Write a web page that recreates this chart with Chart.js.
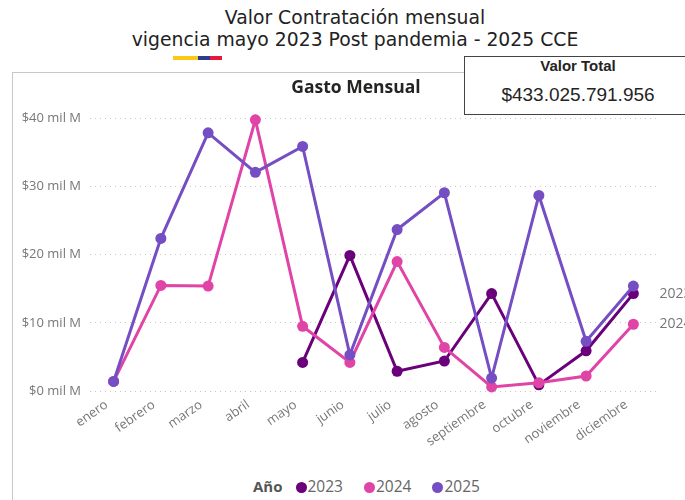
<!DOCTYPE html>
<html lang="es">
<head>
    <meta charset="UTF-8">
    <title>Valor Contratación mensual</title>
    <script src="https://cdn.jsdelivr.net/npm/chart.js"></script>
    <style>
        html, body { margin: 0; padding: 0; background: #fff; overflow: hidden; width: 685px; height: 500px; }
        #titulo { position: absolute; left: 0; top: 7px; width: 710px; text-align: center;
                  font-family: "DejaVu Sans", sans-serif; font-size: 18.8px; line-height: 22px; color: #222; }
        .barra { position: absolute; top: 56px; height: 4px; }
        #panel { position: absolute; left: 12px; top: 72px; width: 700px; height: 440px;
                 border-left: 1px solid #c8c8c8; border-top: 1px solid #c8c8c8; }
        #grafico { position: absolute; left: 12px; top: 72px; }
        #caja { position: absolute; left: 464px; top: 56px; width: 240px; height: 57px;
                border: 1.5px solid #444; background: #fff; font-family: "Liberation Sans", Arial, sans-serif; }
        #caja .t1 { position: absolute; left: 0; width: 226px; top: 0px; text-align: center; font-weight: bold; font-size: 15px; color: #252423; }
        #caja .t2 { position: absolute; left: 0; width: 226px; top: 27px; text-align: center; font-size: 19px; color: #252423; }
        #leyenda { position: absolute; top: 476px; left: 253px; font-family: "Open Sans", sans-serif; font-size: 15.5px;
                   color: #666; white-space: nowrap; line-height: 20px; }
        #leyenda b { color: #555; margin-right: 13px; font-size: 15px; }
        #leyenda span.p { display: inline-block; width: 11px; height: 11px; border-radius: 50%; margin-right: 1px; vertical-align: -1px; }
        #leyenda span.i { margin-right: 21px; }
    </style>
</head>
<body>
    <div id="titulo">Valor Contratación mensual<br>vigencia mayo 2023 Post pandemia - 2025 CCE</div>
    <div class="barra" style="left:173px;width:25px;background:#FCC917"></div>
    <div class="barra" style="left:198px;width:12px;background:#2B3B8F"></div>
    <div class="barra" style="left:210px;width:12px;background:#E3193B"></div>
    <div id="panel"></div>
    <canvas id="grafico" width="688" height="394"></canvas>
    <div id="caja"><div class="t1">Valor Total</div><div class="t2">$433.025.791.956</div></div>
    <div id="leyenda"></div>

    <script>
        // Datos (miles de millones)
        const meses = ['enero', 'febrero', 'marzo', 'abril', 'mayo', 'junio', 'julio', 'agosto',
                       'septiembre', 'octubre', 'noviembre', 'diciembre'];
        const anios = ['2023', '2024', '2025'];
        const gasto2023 = [null, null, null, null, 4.2, 19.9, 2.9, 4.4, 14.3, 0.9, 5.9, 14.3];
        const gasto2024 = [1.4, 15.5, 15.4, 39.8, 9.5, 4.2, 19.0, 6.4, 0.6, 1.2, 2.2, 9.8];
        const gasto2025 = [1.4, 22.4, 37.9, 32.1, 35.9, 5.3, 23.7, 29.1, 1.9, 28.7, 7.3, 15.4];
        const colores = ['#6B007B', '#E044A7', '#744EC2'];
        const etiquetasFinales = ['2023', '2024']; // etiquetas al final de la línea

        const series = [gasto2023, gasto2024, gasto2025];

        // leyenda
        let html = '<b>Año</b>';
        anios.forEach((a, i) => {
            html += '<span class="p" style="background:' + colores[i] + '"></span><span class="i">' + a + '</span>';
        });
        document.getElementById('leyenda').innerHTML = html;

        // plugin para las etiquetas de serie a la derecha
        const etiquetasSerie = {
            id: 'etiquetasSerie',
            afterDatasetsDraw(chart) {
                const c = chart.ctx;
                c.save();
                c.font = '14px "Open Sans"';
                c.fillStyle = '#777';
                c.textBaseline = 'middle';
                chart.data.datasets.forEach((ds, i) => {
                    if (!etiquetasFinales.includes(ds.label)) return;
                    const pts = chart.getDatasetMeta(i).data;
                    const p = pts[pts.length - 1];
                    c.fillText(ds.label, p.x + 26, p.y);
                });
                c.restore();
            }
        };

        const ctx = document.getElementById('grafico').getContext('2d');
        const grafico = new Chart(ctx, {
            type: 'line',
            data: {
                labels: meses,
                datasets: anios.map((a, i) => ({
                    label: a,
                    data: series[i],
                    yAxisID: 'y',
                    borderColor: colores[i],
                    backgroundColor: colores[i],
                    borderWidth: 3,
                    pointRadius: 5.5,
                    pointBorderWidth: 0,
                    tension: 0,
                    clip: false,
                    order: 3 - i
                }))
            },
            options: {
                responsive: false,
                devicePixelRatio: 1,
                animation: false,
                events: [],
                layout: { padding: 0 },
                plugins: {
                    legend: { display: false },
                    tooltip: { enabled: false },
                    title: {
                        display: true,
                        text: 'Gasto Mensual',
                        color: '#252423',
                        font: { family: '"Open Sans"', size: 17.5, weight: 'bold' },
                        padding: { top: 6, bottom: 19.5 }
                    }
                },
                scales: {
                    x: {
                        offset: true,
                        grid: { display: false },
                        border: { display: false },
                        ticks: {
                            color: '#777',
                            font: { family: '"Open Sans"', size: 13 },
                            minRotation: 35,
                            maxRotation: 35,
                            autoSkip: false,
                            padding: -2,
                            labelOffset: -7
                        },
                        afterFit(s) { s.height = 75; }
                    },
                    y: {
                        min: 0,
                        max: 40,
                        border: { display: false, dash: [1, 4] },
                        grid: { color: '#c8c8c8', lineWidth: 1, drawTicks: false },
                        ticks: {
                            stepSize: 10,
                            color: '#777',
                            padding: 9,
                            font: { family: '"Open Sans"', size: 13 },
                            callback: v => '$' + v + ' mil M'
                        },
                        afterFit(s) { s.width = 78; }
                    },
                    // eje vacío a la derecha para dejar espacio a las etiquetas de serie
                    margen: {
                        type: 'linear',
                        position: 'right',
                        grid: { display: false },
                        border: { display: false },
                        ticks: { display: false },
                        afterFit(s) { s.width = 43; }
                    }
                }
            },
            plugins: [etiquetasSerie]
        });
    </script>
</body>
</html>
